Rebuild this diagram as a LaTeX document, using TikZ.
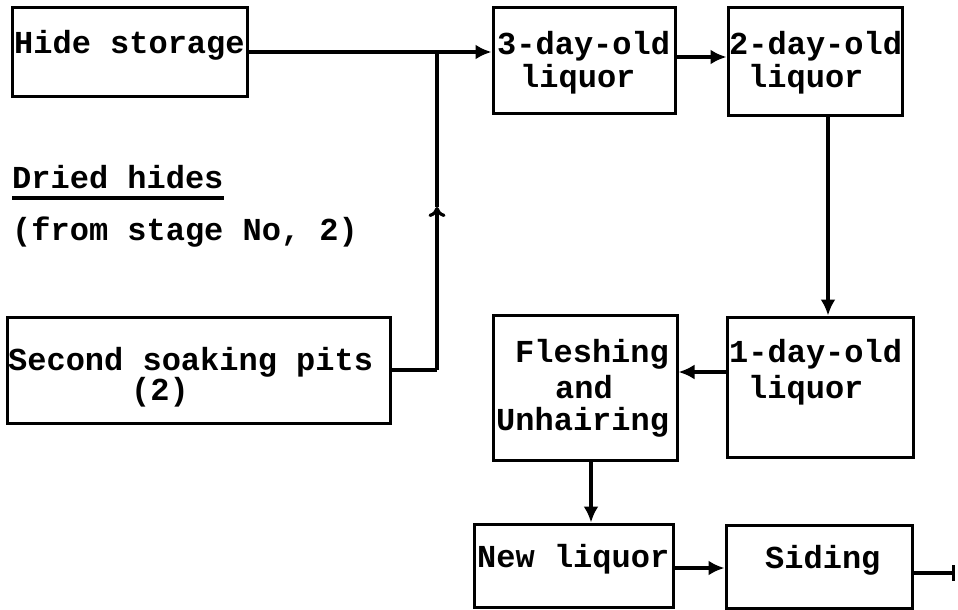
\documentclass[tikz,border=0pt]{standalone}
\usepackage{fontspec}
\setmonofont{Liberation Mono}
\usetikzlibrary{arrows.meta}
\begin{document}
\begin{tikzpicture}[x=1pt,y=-1pt,
  box/.style={draw,line width=3pt,inner sep=0pt,rectangle},
  txt/.style={inner sep=0pt,anchor=base west,font=\ttfamily\bfseries\fontsize{32}{34}\selectfont},
  conn/.style={line width=3.2pt},
  arr/.style={conn,-{Latex[length=16pt,width=15pt]}}]
\useasboundingbox (0,0) rectangle (958,610);
% boxes
\node[box,minimum width=235pt,minimum height=88pt] (hs) at (129.5,52) {};
\node[box,minimum width=182pt,minimum height=105pt] (d3) at (584,60.5) {};
\node[box,minimum width=174pt,minimum height=107pt] (d2) at (815,61.5) {};
\node[box,minimum width=186pt,minimum height=140pt] (d1) at (820,387) {};
\node[box,minimum width=184pt,minimum height=145pt] (fu) at (585,387.5) {};
\node[box,minimum width=383pt,minimum height=106pt] (sp) at (198.5,370) {};
\node[box,minimum width=199pt,minimum height=83pt] (nl) at (573.5,565.5) {};
\node[box,minimum width=186pt,minimum height=83pt] (sd) at (819,566.5) {};
% texts
\node[txt] (t1) at (14,53) {Hide storage};
\node[txt] (t2) at (497,55) {3-day-old};
\node[txt] (t3) at (520,88) {liquor};
\node[txt] (t4) at (729,55) {2-day-old};
\node[txt] (t5) at (748,88) {liquor};
\node[txt] (t6) at (729,362) {1-day-old};
\node[txt] (t7) at (748,398) {liquor};
\node[txt] (t8) at (515,362) {Fleshing};
\node[txt] (t9) at (555,398) {and};
\node[txt] (t10) at (496,430) {Unhairing};
\node[txt] (t11) at (8,370) {Second soaking pits};
\node[txt] (t12) at (131,400) {(2)};
\node[txt] (t13) at (477,567) {New liquor};
\node[txt] (t14) at (765,568) {Siding};
\node[txt] (dh) at (12,188) {Dried hides};
\node[txt] (fs) at (12,240) {(from stage No, 2)};
\draw[conn] ([yshift=-10pt]dh.base west) -- ([yshift=-10pt]dh.base east);
% connectors
\coordinate (j) at (437,52);
\coordinate (c1) at (437,370);
\coordinate (mid) at (437,207);
\coordinate (out) at (955,573);
\draw[arr] (hs.east) -- (hs.east -| d3.west);
\draw[conn] (sp.east) -- (c1);
\draw[conn,-{To[length=10pt,width=17pt]}] (c1) -- (mid);
\draw[conn] (mid) -- (j);
\draw[arr] (d3.east |- 0,57) -- (d2.west |- 0,57);
\draw[arr] (d2.south -| 828,0) -- (d1.north -| 828,0);
\draw[arr] (d1.west |- 0,372) -- (fu.east |- 0,372);
\draw[arr] (fu.south -| 591,0) -- (nl.north -| 591,0);
\draw[arr] (nl.east |- 0,568) -- (sd.west |- 0,568);
\draw[conn,-{Bar[width=16pt]}] (sd.east |- out) -- (out);
\end{tikzpicture}
\end{document}
